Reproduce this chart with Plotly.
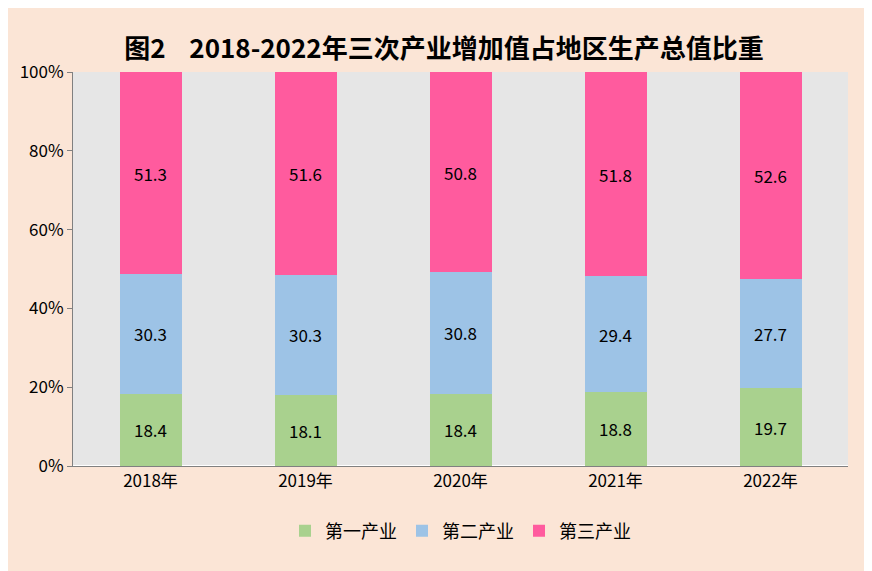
import plotly.graph_objects as go

years = ["2018年", "2019年", "2020年", "2021年", "2022年"]
primary = [18.4, 18.1, 18.4, 18.8, 19.7]
secondary = [30.3, 30.3, 30.8, 29.4, 27.7]
tertiary = [51.3, 51.6, 50.8, 51.8, 52.6]

series = [
    ("第一产业", primary, "#A9D18E"),
    ("第二产业", secondary, "#9DC3E6"),
    ("第三产业", tertiary, "#FF5B9E"),
]

fig = go.Figure()
for name, vals, color in series:
    fig.add_trace(go.Bar(
        x=years, y=vals, name=name, marker=dict(color=color, line_width=0),
        text=[f"{v:.1f}" for v in vals], textposition="inside", insidetextanchor="middle",
        textfont=dict(size=17, color="black"), width=0.4,
    ))

fig.update_layout(
    barmode="stack",
    width=872, height=571,
    margin=dict(l=60, r=32, t=64, b=113),
    paper_bgcolor="#FBE5D6",
    plot_bgcolor="#E6E6E6",
    font=dict(family="Noto Sans CJK SC, Liberation Sans", size=16, color="black"),
    title=dict(text="<b>图2    2018-2022年三次产业增加值占地区生产总值比重</b>",
               x=0.5, xanchor="center", y=0.945, font=dict(size=26)),
    legend=dict(orientation="h", x=0.5, xanchor="center", y=-0.165, yanchor="middle",
                font=dict(size=18), traceorder="normal"),
    xaxis=dict(showline=True, linecolor="#808080", ticks="", tickfont=dict(size=17)),
    yaxis=dict(range=[0, 100], tickvals=[0, 20, 40, 60, 80, 100],
               ticktext=["0%", "20%", "40%", "60%", "80%", "100%"],
               showgrid=False, showline=True, linecolor="#808080",
               ticks="outside", ticklen=5, tickcolor="#808080", tickfont=dict(size=17)),
    uniformtext=dict(mode="show", minsize=10),
)
fig.write_html("out.html")
